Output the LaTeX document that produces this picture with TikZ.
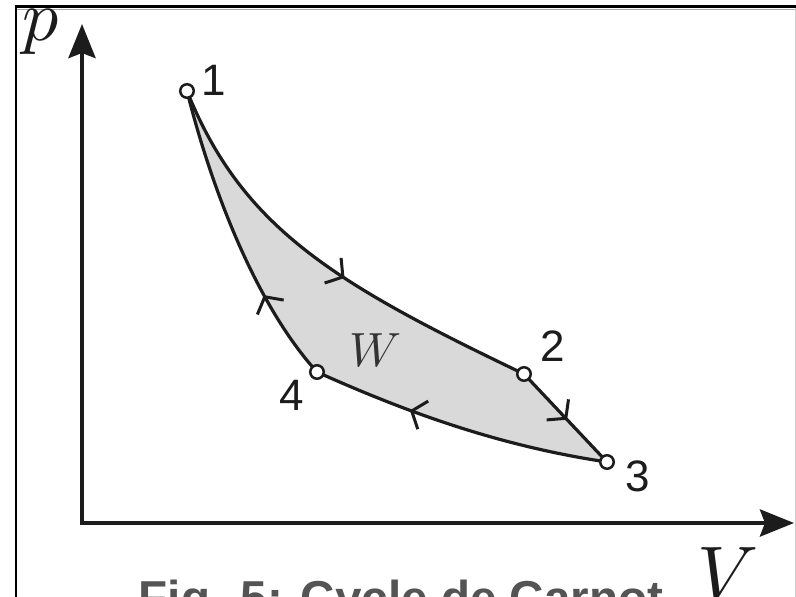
\documentclass[tikz,border=0pt]{standalone}
\DeclareFontFamily{OML}{cmm}{\skewchar\font=127 }
\DeclareFontShape{OML}{cmm}{m}{it}{<-> cmmi10}{}
\usepackage{fontspec}
\newfontfamily\arialf{Liberation Sans}
\usetikzlibrary{arrows.meta,decorations.markings}
\definecolor{ink}{HTML}{1C1C1C}
\definecolor{workfill}{HTML}{D9D9D9}
\definecolor{capgray}{HTML}{545454}
\definecolor{wgray}{HTML}{333333}
\tikzset{
  curve/.style={draw=ink, line width=3.2pt},
  state/.style={circle, draw=ink, fill=white, line width=2.5pt, minimum size=13.5pt, inner sep=0pt},
  numlabel/.style={font=\arialf\fontsize{44}{44}\selectfont, text=ink, inner sep=0pt},
  axislabel/.style={inner sep=0pt, text=ink},
  midarrow/.style={postaction={decorate}, decoration={markings,
      mark=at position #1 with {\arrow{Straight Barb[length=12pt,width=30pt,line width=3pt]}}}},
  axisline/.style={draw=ink, line width=4.5pt, line join=miter,
      {Stealth[length=34pt,width=27pt,inset=5pt]}-{Stealth[length=34pt,width=27pt,inset=5pt]}},
}
\begin{document}
\begin{tikzpicture}[x=1pt,y=-1pt]
\useasboundingbox (0,0) rectangle (796,597);
% frame
\draw[black, line width=3.5pt] (14.5,6.5) -- (796,6.5);
\draw[black!35, line width=1pt] (16,9) -- (796,9);
\draw[black, line width=2.5pt] (16,5) -- (16,597);
\draw[black!20, line width=1.5pt] (795.5,8) -- (795.5,597);
% points
\coordinate (P1) at (187,91);
\coordinate (P2) at (524,374);
\coordinate (P3) at (607,462);
\coordinate (P4) at (317,372);
% shaded work area
\fill[workfill] (P1) .. controls (242,228) and (334,283) .. (P2) -- (P3)
  .. controls (507,447) and (417,417) .. (P4)
  .. controls (257,306) and (212,191) .. (P1) -- cycle;
% cycle curves
\draw[curve, midarrow=0.55] (P1) .. controls (242,228) and (334,283) .. (P2);
\draw[curve, midarrow=0.52] (P2) -- (P3);
\draw[curve, midarrow=0.67] (P3) .. controls (507,447) and (417,417) .. (P4);
\draw[curve, midarrow=0.30] (P4) .. controls (257,306) and (212,191) .. (P1);
% axes
\coordinate (O) at (82,523);
\coordinate (Ytip) at (82,24);
\coordinate (Xtip) at (794,523);
\draw[axisline] (Ytip) -- (O) -- (Xtip);
% state circles
\node[state] (n1) at (P1) {};
\node[state] (n2) at (P2) {};
\node[state] (n3) at (P3) {};
\node[state] (n4) at (P4) {};
% labels
\node[numlabel] (l1) at (214,80) {1};
\node[numlabel] (l2) at (553,346) {2};
\node[numlabel] (l3) at (638,476) {3};
\node[numlabel] (l4) at (292,395) {4};
\node[axislabel, font=\fontsize{72}{72}\selectfont] (plabel) at (41,32) {$p$};
\node[axislabel, font=\fontsize{76}{76}\selectfont] (vlabel) at (728,574) {$V$};
\node[inner sep=0pt, text=wgray, font=\fontsize{48}{48}\selectfont] (wlabel) at (375,350) {$W$};
\node[anchor=base west, inner sep=0pt, text=capgray, font=\arialf\bfseries\fontsize{47.6}{48}\selectfont] (cap) at (138.5,614) {Fig. 5: Cycle de Carnot};
\end{tikzpicture}
\end{document}
